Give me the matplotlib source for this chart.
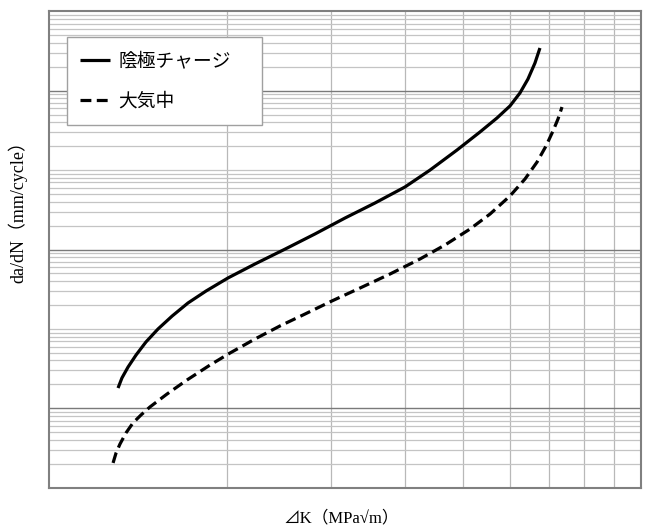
import matplotlib
matplotlib.use("Agg")
import matplotlib.pyplot as plt
from matplotlib.ticker import NullFormatter

# Data
dk_charge = [13.08, 13.28, 13.60, 14.03, 14.58, 15.28, 16.14, 17.17, 18.42, 20.06, 22.28,
             25.04, 28.14, 31.62, 35.53, 39.93, 44.01, 48.89, 53.46, 57.11, 60.07, 62.45,
             64.42, 66.20, 67.50]
dadn_charge = [1.80e-6, 2.41e-6, 3.31e-6, 4.69e-6, 6.84e-6, 9.97e-6, 1.45e-5, 2.12e-5,
               3.00e-5, 4.38e-5, 6.57e-5, 1.01e-4, 1.57e-4, 2.49e-4, 3.85e-4, 6.13e-4,
               1.00e-3, 1.79e-3, 3.02e-3, 4.53e-3, 6.42e-3, 9.36e-3, 1.40e-2, 2.23e-2,
               3.45e-2]
dk_air = [12.83, 12.98, 13.18, 13.49, 13.86, 14.30, 14.81, 15.82, 17.10, 18.71, 20.22,
          22.28, 24.56, 27.07, 30.06, 33.52, 37.67, 42.33, 46.66, 51.42, 55.60, 60.07,
          63.69, 66.73, 69.11, 71.02, 72.41, 73.54]
dadn_air = [2.05e-7, 2.74e-7, 3.55e-7, 4.89e-7, 6.53e-7, 8.23e-7, 1.04e-6, 1.51e-6,
            2.27e-6, 3.51e-6, 4.97e-6, 7.46e-6, 1.09e-5, 1.54e-5, 2.25e-5, 3.27e-5,
            4.91e-5, 7.59e-5, 1.14e-4, 1.81e-4, 2.80e-4, 4.72e-4, 7.73e-4, 1.26e-3,
            2.01e-3, 3.11e-3, 4.40e-3, 6.23e-3]
labels = ["陰極チャージ", "大気中"]
xlabel = "⊿K（MPa√m）"
ylabel = "da/dN（mm/cycle）"
x_range = (10, 100)
y_range = (1e-7, 1e-1)
dark_decades = [1e-6, 1e-4, 1e-2]

plt.rcParams['font.family'] = ['Noto Sans CJK JP', 'DejaVu Sans']

fig = plt.figure(figsize=(6.47, 5.28), dpi=100)
ax = fig.add_axes([49/647, 1 - 487.7/528, 592/647, 476.4/528])
ax.set_xscale('log')
ax.set_yscale('log')
ax.set_xlim(*x_range)
ax.set_ylim(*y_range)

# grid lines
for k in range(2, 10):
    ax.axvline(k * x_range[0], color='#b8b8b8', lw=0.9, zorder=0)
for e in range(-7, -1):
    for k in range(1, 10):
        yv = k * 10.0**e
        if any(abs(yv - d) / d < 1e-6 for d in dark_decades):
            ax.axhline(yv, color='#7a7a7a', lw=1.0, zorder=0.5)
        else:
            ax.axhline(yv, color='#c4c4c4', lw=0.9, zorder=0)

ax.tick_params(which='both', length=0, labelleft=False, labelbottom=False)
ax.xaxis.set_minor_formatter(NullFormatter())
ax.yaxis.set_minor_formatter(NullFormatter())
for s in ax.spines.values():
    s.set_color('#808080')
    s.set_linewidth(1.5)

l1, = ax.plot(dk_charge, dadn_charge, color='black', lw=2.3, label=labels[0],
              solid_capstyle='butt', solid_joinstyle='round', zorder=3)
l2, = ax.plot(dk_air, dadn_air, color='black', lw=2.3, label=labels[1],
              linestyle=(0, (3.4, 1.7)), zorder=3)

leg = ax.legend(handles=[l1, l2], loc='upper left',
                bbox_to_anchor=(0.0304, 0.5, 0.329, 0.446), mode='expand',
                borderaxespad=0, fontsize=13.5, frameon=True, fancybox=False,
                handlelength=1.6, handletextpad=0.42, labelspacing=1.0,
                borderpad=0.72)
leg.get_frame().set_edgecolor('#a0a0a0')
leg.get_frame().set_linewidth(1.0)
leg.get_frame().set_alpha(1)

fig.text(341/647, 1 - 518/528, xlabel, ha='center', va='center', fontsize=12,
         family=['Liberation Serif', 'Noto Sans CJK JP'])
fig.text(18/647, 1 - 283/528, ylabel, ha='center', va='bottom', fontsize=13,
         rotation=90, family=['Liberation Serif', 'Noto Sans CJK JP'])

fig.savefig('out.png', dpi=100)
